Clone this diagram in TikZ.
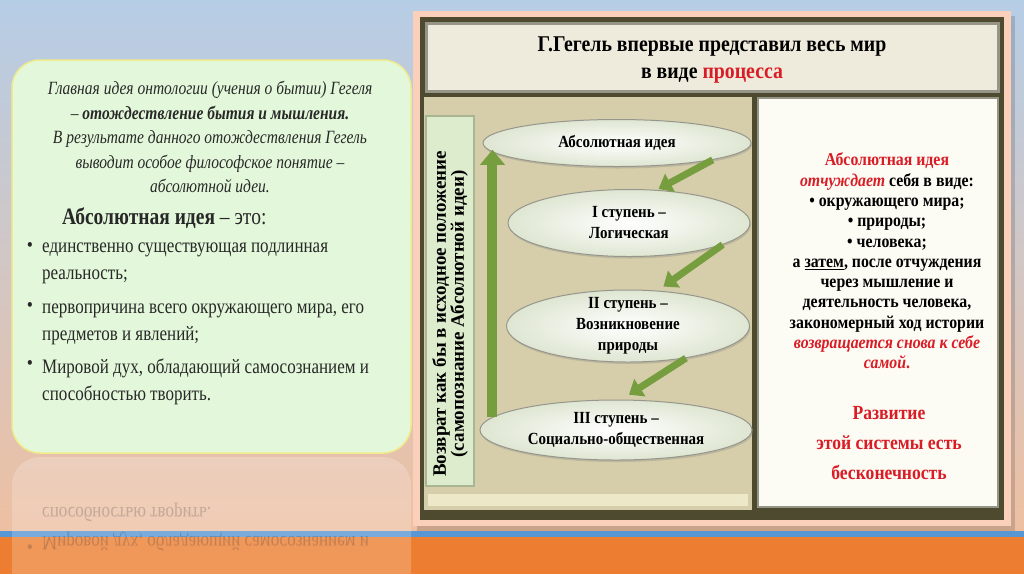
\documentclass[tikz,border=0pt]{standalone}
\usepackage{fontspec}
\setmainfont{Liberation Serif}[FakeStretch=0.88]
\newfontfamily\leftserif{Liberation Serif}[FakeStretch=0.83]
\newfontfamily\uprightserif{Liberation Serif}
\usepackage{tikz}
\usetikzlibrary{shapes.geometric}
\usetikzlibrary{arrows.meta}
\usetikzlibrary{shadows}

\definecolor{skyblue}{RGB}{182,205,230}
\definecolor{peach}{RGB}{238,192,162}
\definecolor{stripe}{RGB}{88,150,212}
\definecolor{bandorange}{RGB}{237,125,49}
\definecolor{mint}{RGB}{227,248,218}
\definecolor{mintedge}{RGB}{240,236,140}
\definecolor{framepeach}{RGB}{250,208,186}
\definecolor{olivedark}{RGB}{78,74,48}
\definecolor{titlefill}{RGB}{238,235,220}
\definecolor{bevelgray}{RGB}{150,150,136}
\definecolor{tanpanel}{RGB}{214,206,170}
\definecolor{tanlight}{RGB}{236,232,200}
\definecolor{creampanel}{RGB}{252,251,244}
\definecolor{labelgreen}{RGB}{221,236,204}
\definecolor{labeledge}{RGB}{168,182,148}
\definecolor{leafgreen}{RGB}{118,158,62}
\definecolor{ovaledge}{RGB}{150,150,140}
\definecolor{ovalrim}{RGB}{222,230,210}
\definecolor{redtxt}{RGB}{218,28,38}
\definecolor{inkgray}{RGB}{40,40,40}

\begin{document}
\begin{tikzpicture}[x=1pt, y=-1pt,
    ovalnode/.style={ellipse, draw=ovaledge, line width=1pt, inner color=white, outer color=ovalrim, drop shadow={shadow xshift=1pt, shadow yshift=-2pt, opacity=0.3}},
    ovaltext/.style={align=center, font=\fontsize{17}{21}\selectfont\bfseries},
    lpara/.style={align=center, text=inkgray, font=\leftserif\fontsize{18.7}{24.5}\selectfont\itshape},
    bulitem/.style={anchor=west, align=left, text=inkgray, font=\leftserif\fontsize{20.5}{27}\selectfont, inner sep=0pt},
    buldot/.style={text=inkgray, font=\fontsize{20}{20}\selectfont, inner sep=0pt},
    rtext/.style={align=center, font=\fontsize{18}{20.3}\selectfont\bfseries},
    stepgreen/.style={draw=leafgreen, line width=7pt, -{Triangle[width=20pt,length=13pt]}},
    backgreen/.style={draw=leafgreen, line width=10pt, -{Triangle[width=24pt,length=15pt]}},
    reflect/.style={anchor=west, yscale=-1, opacity=0.22, text=inkgray, font=\leftserif\fontsize{20.5}{27}\selectfont, inner sep=0pt}
  ]

  \useasboundingbox (0,0) rectangle (1024,574);
  \fill[top color=skyblue, bottom color=peach] (0,0) rectangle (1024,531);
  \fill[stripe] (0,531) rectangle (1024,537);
  \fill[bandorange] (0,537) rectangle (1024,574);

  % left card and its reflection
  \draw[mintedge, line width=1.5pt, fill=mint, rounded corners=28pt] (12,60) rectangle (411,453);
  \begin{scope}
    \clip (0,455) rectangle (1024,574);
    \fill[white, opacity=0.2, rounded corners=28pt] (12,457) rectangle (411,640);
  \end{scope}

  \node[lpara] (idea) at (210,137) {Главная идея онтологии (учения о бытии) Гегеля\\
    – \textbf{отождествление бытия и мышления.}\\
    В результате данного отождествления Гегель\\
    выводит особое философское понятие –\\
    абсолютной идеи.};
  \node[anchor=west, text=inkgray, font=\leftserif\fontsize{23.5}{26}\selectfont, inner sep=0pt] (abs) at (62,218) {\textbf{Абсолютная идея} – это:};

  \node[buldot] (d1) at (30,247) {•};
  \node[bulitem] (t1) at (42,263) {единственно существующая подлинная\\реальность;};
  \node[buldot] (d2) at (30,307) {•};
  \node[bulitem] (t2) at (42,324) {первопричина всего окружающего мира, его\\предметов и явлений;};
  \node[buldot] (d3) at (30,365) {•};
  \node[bulitem] (t3) at (42,382) {Мировой дух, обладающий самосознанием и\\способностью творить.};

  \node[reflect] (r1) at (42,513) {способностью творить.};
  \node[reflect] (r2) at (42,542) {Мировой дух, обладающий самосознанием и};
  \node[buldot, yscale=-1, opacity=0.22] (rd) at (30,545) {•};

  % right board
  \fill[black, opacity=0.15] (417,16) rectangle (1015,531);
  \fill[framepeach] (413,11) rectangle (1011,526);
  \fill[olivedark] (420,17) rectangle (1004,520);
  \draw[bevelgray, line width=3pt, fill=titlefill] (426.5,23.5) rectangle (998.5,91.5);
  \fill[tanpanel] (424,97) rectangle (752,510);
  \fill[tanlight] (428,494) rectangle (748,506);
  \draw[bevelgray, line width=2pt, fill=creampanel] (758,98) rectangle (998,507);

  \node[align=center, font=\fontsize{22.5}{27}\selectfont\bfseries] (title) at (712,60)
    {Г.Гегель впервые представил весь мир\\в виде \textcolor{redtxt}{процесса}};

  \draw[labeledge, line width=1.5pt, fill=labelgreen] (426,116) rectangle (474,486);
  \node[rotate=90, align=center, font=\uprightserif\fontsize{19}{18}\selectfont\bfseries] (back) at (450,314)
    {Возврат как бы в исходное положение\\(самопознание Абсолютной идеи)};

  \node[ovalnode, minimum width=268pt, minimum height=47pt] (e1) at (617,143) {};
  \node[ovalnode, minimum width=242pt, minimum height=67pt] (e2) at (629,223) {};
  \node[ovalnode, minimum width=243pt, minimum height=72pt] (e3) at (628,326) {};
  \node[ovalnode, minimum width=272pt, minimum height=60pt] (e4) at (616,430) {};

  \node[ovaltext] (e1text) at (e1) {Абсолютная идея};
  \node[ovaltext] (e2text) at (e2) {I ступень –\\Логическая};
  \node[ovaltext] (e3text) at (e3) {II ступень –\\Возникновение\\природы};
  \node[ovaltext] (e4text) at (e4) {III ступень –\\Социально-общественная};

  \draw[stepgreen, shorten >=2pt] (e1.-10) -- (e2.50);
  \draw[stepgreen, shorten >=7pt] (e2.-13) -- (e3.50);
  \draw[stepgreen, shorten >=9pt] (e3.-29) -- (e4.80);
  \draw[backgreen] (e4.174) -- (e4.174 |- e1.183);

  \node[rtext] (alien) at (887,261) {\textcolor{redtxt}{Абсолютная идея}\\
    \textcolor{redtxt}{\textit{отчуждает}} себя в виде:\\
    • окружающего мира;\\
    • природы;\\
    • человека;\\
    а \underline{затем}, после отчуждения\\
    через мышление и\\
    деятельность человека,\\
    закономерный ход истории\\
    \textcolor{redtxt}{\textit{возвращается снова к себе}}\\
    \textcolor{redtxt}{\textit{самой}.}};
  \node[align=center, text=redtxt, font=\fontsize{20}{30}\selectfont\bfseries] (devel) at (889,443)
    {Развитие\\этой системы есть\\бесконечность};
\end{tikzpicture}
\end{document}
